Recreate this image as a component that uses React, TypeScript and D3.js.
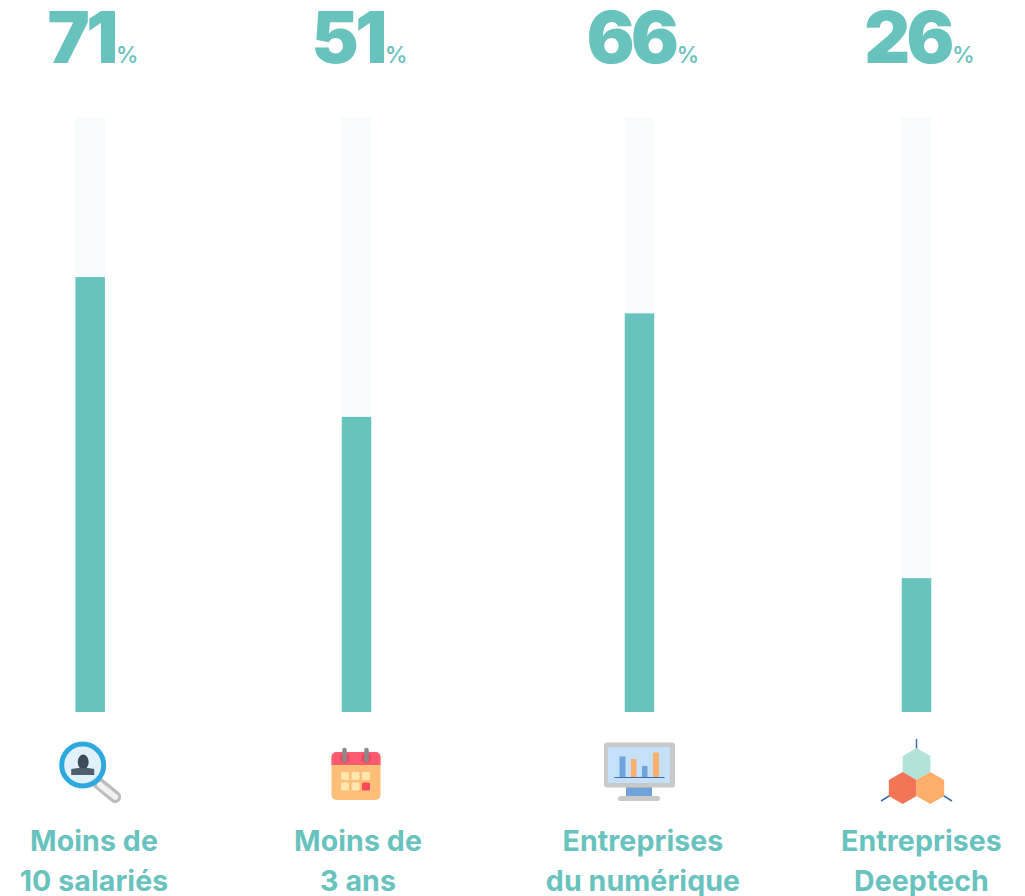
import React from "react";
import * as d3 from "d3";

const percentLabels = [71, 51, 66, 26];
// bar heights as drawn in the picture, they differ a little from the printed labels
const barValues = [73.1, 49.6, 67.0, 22.5];
const categories = ["small", "young", "digital", "deeptech"];
const labelLines = [
  ["Moins de", "10 salariés"],
  ["Moins de", "3 ans"],
  ["Entreprises", "du numérique"],
  ["Entreprises", "Deeptech"],
];

const width = 1025, height = 896;
const barWidth = 29.5;
const teal = "#68c2be";
const track = "#f7fbfc";
const font = "Inter, 'Noto Sans', sans-serif";

const barX = d3.scaleOrdinal<string, number>(categories, [90.2, 356.5, 639.5, 916.5]);
const percentX = d3.scaleOrdinal<string, number>(categories, [93, 359.5, 643, 919.5]);
const labelX = d3.scaleOrdinal<string, number>(categories, [94, 358, 643, 921.5]);
const y = d3.scaleLinear().domain([0, 100]).range([712, 117]);

const hexPoints = (cx: number, cy: number, r: number) =>
  d3.range(6).map(i => {
    const a = (Math.PI / 3) * i;
    return [cx + r * Math.sin(a), cy - r * Math.cos(a)].join(",");
  }).join(" ");

function Magnifier() {
  return (
    <g>
      <line x1={8} y1={13} x2={25} y2={27} stroke="#bdbdbd" strokeWidth={12} strokeLinecap="round" />
      <line x1={10} y1={15} x2={25} y2={27} stroke="#f1f1f1" strokeWidth={6} strokeLinecap="round" />
      <circle cx={-7.5} cy={-5} r={21} fill="#e1f1fc" stroke="#2fa9e0" strokeWidth={5} />
      <ellipse cx={-7} cy={-8} rx={5.5} ry={7.5} fill="#3d4c58" />
      <path d="M-19,5 V-1 L-12,-2 H-2 L4,-1 V5 Z" fill="#4d5f6c" />
    </g>
  );
}

function Calendar() {
  const cols = [-11.5, -1, 9.5];
  const rows = [6, 16.5];
  return (
    <g>
      <rect x={-25} y={-18} width={49} height={48} rx={5} fill="#fdbf78" />
      <path d="M-25,-5 V-13 a5,5 0 0 1 5,-5 H19 a5,5 0 0 1 5,5 V-5 Z" fill="#fb5a70" />
      {[-12, 10].map(cx => (
        <g key={cx}>
          <circle cx={cx} cy={-12} r={5} fill="#f0485c" />
          <line x1={cx} y1={-20} x2={cx} y2={-10} stroke="#8a8a8a" strokeWidth={4.5} strokeLinecap="round" />
        </g>
      ))}
      {rows.map((ry, r) => cols.map((cx, c) => (
        <rect key={`${r}-${c}`} x={cx - 4} y={ry - 4} width={8} height={8} rx={1.5}
          fill={r === 1 && c === 2 ? "#f9485c" : "#ffe7ad"} />
      )))}
    </g>
  );
}

function Monitor() {
  const bars = [
    { x: -20, w: 6, top: -13.5, fill: "#6fa3da" },
    { x: -8.5, w: 5.5, top: -11, fill: "#fcae6b" },
    { x: 2.5, w: 5.5, top: -4, fill: "#6fa3da" },
    { x: 13.5, w: 6, top: -17.5, fill: "#fcae6b" },
  ];
  return (
    <g>
      <rect x={-13.5} y={17} width={26} height={9} fill="#6fa3da" />
      <rect x={-21.5} y={26} width={42} height={5} rx={2.5} fill="#c9c9c9" />
      <rect x={-35.5} y={-27.5} width={71} height={45} rx={3} fill="#c9c9c9" />
      <rect x={-31.5} y={-23} width={62} height={36} fill="#c5e0fb" />
      {bars.map(b => <rect key={b.x} x={b.x} y={b.top} width={b.w} height={7.5 - b.top} fill={b.fill} />)}
      <line x1={-25} x2={25} y1={7.5} y2={7.5} stroke="#3d6ea5" strokeWidth={1.2} />
    </g>
  );
}

function Hexagons() {
  return (
    <g>
      <g stroke="#3d6ea5" strokeWidth={1.5}>
        <line x1={0} y1={-31} x2={0} y2={-20} />
        <line x1={-35.5} y1={31} x2={-25} y2={24.5} />
        <line x1={35.5} y1={31} x2={25} y2={24.5} />
      </g>
      <polygon points={hexPoints(0, -6, 16)} fill="#b0e4d8" />
      <polygon points={hexPoints(-13.8, 18, 16)} fill="#f27455" />
      <polygon points={hexPoints(13.8, 18, 16)} fill="#fcae6b" />
    </g>
  );
}

const icons = [<Magnifier />, <Calendar />, <Monitor />, <Hexagons />];

export default function App() {
  return (
    <svg width={width} height={height} style={{ position: "absolute", left: 0, top: 0, background: "#fff" }}>
      <defs>
        <filter id="soft" x="-10%" y="-10%" width="120%" height="120%">
          <feGaussianBlur stdDeviation={0.45} />
        </filter>
      </defs>
      {categories.map((c, i) => (
        <g key={c}>
          <text x={percentX(c)} y={63} textAnchor="middle" fill={teal} fontFamily={font}
            fontSize={71} fontWeight={900} letterSpacing={-3.5}>
            {percentLabels[i]}
            <tspan dx={1} fontSize={23} fontWeight={500} letterSpacing={0}>%</tspan>
          </text>
          <rect x={barX(c) - barWidth / 2} y={y(100)} width={barWidth} height={y(0) - y(100)} fill={track} />
          <rect x={barX(c) - barWidth / 2} y={y(barValues[i])} width={barWidth} height={y(0) - y(barValues[i])} fill={teal} />
          <g transform={`translate(${barX(c)},770)`} filter="url(#soft)">{icons[i]}</g>
          {labelLines[i].map((line, k) => (
            <text key={line} x={labelX(c)} y={851 + k * 39.5} textAnchor="middle" fill={teal}
              fontFamily={font} fontSize={28.5} fontWeight={700} letterSpacing={0.1}>
              {line}
            </text>
          ))}
        </g>
      ))}
    </svg>
  );
}
